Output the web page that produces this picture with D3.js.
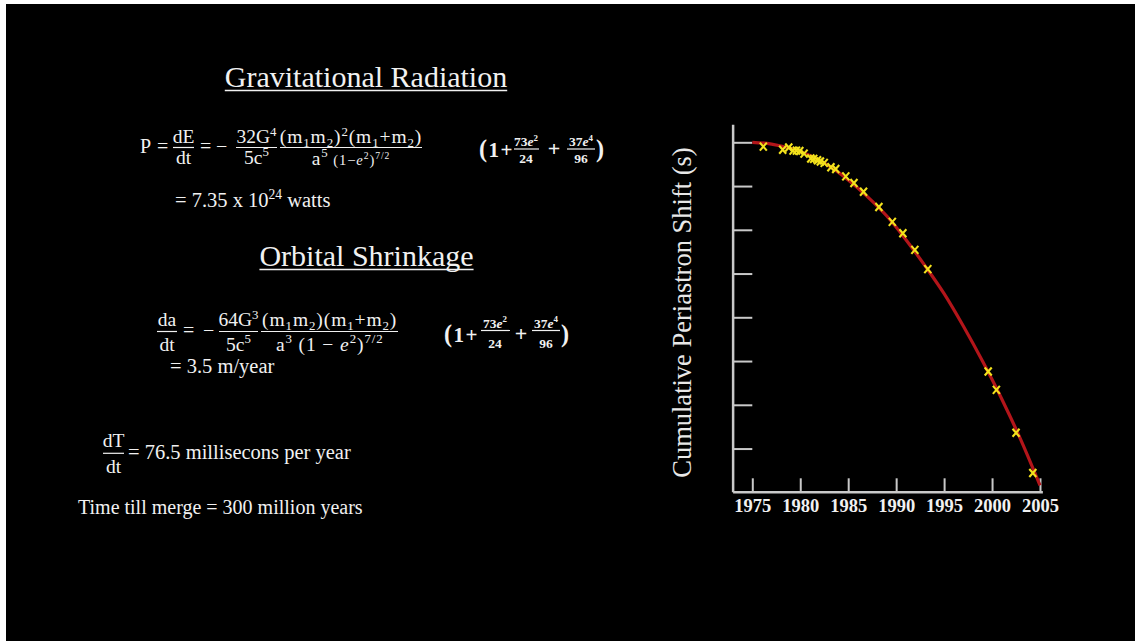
<!DOCTYPE html>
<html>
<head>
<meta charset="utf-8">
<script src="https://cdn.jsdelivr.net/npm/d3@7"></script>
<style>
  body { margin: 0; background: #fff; }
</style>
</head>
<body>
<script>
// fitted curve
var curveYears = [1975, 1977, 1979, 1981, 1983, 1985, 1987, 1989, 1991, 1993, 1995, 1997, 1999, 2001, 2003, 2005];
var curveShift = [0, -0.2, -0.7, -1.5, -2.7, -4.3, -6.2, -8.4, -11.1, -14.1, -17.3, -21.0, -25.0, -29.3, -34.0, -39.2];

// measured points (yellow x)
var obsYears = [1976.15, 1978.17, 1978.8, 1979.25, 1979.6, 1979.95, 1980.4, 1981.1, 1981.4, 1981.8, 1982.1, 1982.5,
                1983.2, 1983.7, 1984.75, 1985.6, 1986.6, 1988.2, 1989.6, 1990.7, 1991.95, 1993.3,
                1999.6, 2000.45, 2002.5, 2004.25];
var obsShift = [-0.5, -0.85, -0.6, -0.95, -0.95, -1.0, -1.3, -1.85, -1.9, -2.05, -2.2, -2.35,
                -2.85, -3.05, -3.9, -4.65, -5.65, -7.4, -9.1, -10.4, -12.3, -14.5,
                -26.2, -28.3, -33.2, -37.8];

var xTicks = [1975, 1980, 1985, 1990, 1995, 2000, 2005];
var yTicks = [0, -5, -10, -15, -20, -25, -30, -35];
var yLabel = "Cumulative Periastron Shift (s)";

var serif = "'Liberation Serif', 'DejaVu Serif', serif";
var ink = "#f1f1f1";

var svg = d3.select("body").append("svg")
    .attr("width", 1135)
    .attr("height", 641);

svg.append("rect").attr("width", 1135).attr("height", 641).attr("fill", "#fff");
svg.append("rect").attr("x", 6).attr("y", 4).attr("width", 1129).attr("height", 637).attr("fill", "#000");

// ---- text helpers ----
// flags: ^ sup, _ sub, i italic, b bold, s small, L large
function mathText(g, x, y, parts, size, opt) {
    opt = opt || {};
    var t = g.append("text")
        .attr("x", x).attr("y", y)
        .attr("font-family", serif)
        .attr("font-size", size)
        .attr("fill", ink)
        .attr("text-anchor", opt.anchor || "start");
    if (opt.bold) t.attr("font-weight", "bold");
    if (opt.ls) t.attr("letter-spacing", opt.ls);
    var off = 0;
    parts.forEach(function(p) {
        var f = p[1] || "";
        var base = f.indexOf("s") >= 0 ? size * 0.75 : (f.indexOf("L") >= 0 ? size * 1.15 : size);
        var target = f.indexOf("^") >= 0 ? -base * 0.38 : (f.indexOf("_") >= 0 ? base * 0.2 : 0);
        var fs = (f.indexOf("^") >= 0 || f.indexOf("_") >= 0) ? base * 0.66 : base;
        var ts = t.append("tspan").text(p[0]).attr("dy", target - off).attr("font-size", fs);
        off = target;
        if (f.indexOf("i") >= 0) ts.attr("font-style", "italic");
        if (f.indexOf("b") >= 0) ts.attr("font-weight", "bold");
    });
    return t;
}

function frac(g, cx, barY, x1, x2, num, den, size, up, down, opt) {
    opt = opt || {};
    mathText(g, cx, barY - up, num, size, {anchor: "middle", bold: opt.bold, ls: opt.ls});
    mathText(g, cx, barY + down, den, size, {anchor: "middle", bold: opt.bold, ls: opt.ls});
    g.append("line")
        .attr("x1", x1).attr("x2", x2)
        .attr("y1", barY).attr("y2", barY)
        .attr("stroke", ink).attr("stroke-width", 1.2);
}

function title(g, cx, y, s) {
    var t = g.append("text")
        .attr("x", cx).attr("y", y)
        .attr("text-anchor", "middle")
        .attr("font-family", serif)
        .attr("font-size", 30)
        .attr("fill", ink)
        .text(s);
    var b = t.node().getBBox();
    g.append("line")
        .attr("x1", b.x).attr("x2", b.x + b.width)
        .attr("y1", y + 3.5).attr("y2", y + 3.5)
        .attr("stroke", ink).attr("stroke-width", 1.5);
}

var txt = svg.append("g");
var M = 19.5;   // math size
var T = 20.5;   // plain line size

// ---- Gravitational Radiation ----
title(txt, 366, 87, "Gravitational Radiation");

mathText(txt, 140, 153, [["P"]], 20);
mathText(txt, 157, 153, [["="]], 20);
frac(txt, 183.5, 147.5, 173, 194, [["dE"]], [["dt"]], M, 4.5, 16);
mathText(txt, 200, 153, [["="]], 20);
mathText(txt, 216, 153, [["\u2212"]], 20);
frac(txt, 256.5, 147.5, 236, 277, [["32G"], ["4", "^"]], [["5c"], ["5", "^"]], M, 4.5, 16);
frac(txt, 351, 147.5, 280, 422,
    [["(m"], ["1", "_"], ["m"], ["2", "_"], [")"], ["2", "^"], ["(m"], ["1", "_"], ["+m"], ["2", "_"], [")"]],
    [["a"], ["5", "^"], [" (1\u2212", "s"], ["e", "si"], ["2", "s^"], [")", "s"], ["7/2", "s^"]],
    M, 4.5, 17, {ls: 0.9});

mathText(txt, 479, 156.5, [["(", "L"], ["1+"]], 21, {bold: true, ls: 1.5});
frac(txt, 526, 149, 514, 539, [["73"], ["e", "i"], ["2", "^"]], [["24"]], 13.5, 3, 13.5, {bold: true});
mathText(txt, 554, 156, [["+"]], 22, {bold: true, anchor: "middle"});
frac(txt, 581, 149, 567, 595, [["37"], ["e", "i"], ["4", "^"]], [["96"]], 13.5, 3, 13.5, {bold: true});
mathText(txt, 596, 156.5, [[")", "L"]], 21, {bold: true});

mathText(txt, 175, 207, [["= 7.35 x 10"], ["24", "^"], [" watts"]], T);

// ---- Orbital Shrinkage ----
title(txt, 366.5, 266, "Orbital Shrinkage");

frac(txt, 167, 331.5, 157, 177, [["da"]], [["dt"]], M, 5.5, 19);
mathText(txt, 183, 337, [["="]], 20);
mathText(txt, 203, 337, [["\u2212"]], 20);
frac(txt, 238.5, 331.5, 219, 258, [["64G"], ["3", "^"]], [["5c"], ["5", "^"]], M, 5.5, 19);
frac(txt, 329.7, 331.5, 261, 398,
    [["(m"], ["1", "_"], ["m"], ["2", "_"], [")(m"], ["1", "_"], ["+m"], ["2", "_"], [")"]],
    [["a"], ["3", "^"], [" (1 \u2212 "], ["e", "i"], ["2", "^"], [")"], ["7/2", "^"]],
    M, 5.5, 19, {ls: 0.9});

mathText(txt, 444, 341.5, [["(", "L"], ["1+"]], 21, {bold: true, ls: 1.5});
frac(txt, 495, 330.5, 481, 510, [["73"], ["e", "i"], ["2", "^"]], [["24"]], 13.5, 3, 17, {bold: true});
mathText(txt, 521, 341, [["+"]], 22, {bold: true, anchor: "middle"});
frac(txt, 546, 330.5, 532, 560, [["37"], ["e", "i"], ["4", "^"]], [["96"]], 13.5, 3, 17, {bold: true});
mathText(txt, 561, 341.5, [[")", "L"]], 21, {bold: true});

mathText(txt, 170, 373, [["= 3.5 m/year"]], T);

// ---- period decay ----
frac(txt, 113.5, 453.3, 103, 124, [["dT"]], [["dt"]], M, 6, 20);
mathText(txt, 128, 459, [["= 76.5 millisecons per year"]], T);
mathText(txt, 78, 514, [["Time till merge = 300 million years"]], 20);

// ---- chart ----
var x = d3.scaleLinear().domain([1975, 2005]).range([752.3, 1040]);
var y = d3.scaleLinear().domain([0, -40]).range([142.3, 492.3]);
var axisCol = "#c9c9c9";

var chart = svg.append("g");

var xAxis = chart.append("g")
    .attr("transform", "translate(0," + y(-40) + ")")
    .call(d3.axisBottom(x).tickValues(xTicks).tickFormat(d3.format("d"))
        .tickSizeInner(-14).tickSizeOuter(0).tickPadding(7));
xAxis.select(".domain").remove();
xAxis.selectAll("line").attr("stroke", axisCol).attr("stroke-width", 2);
xAxis.selectAll("text")
    .attr("fill", ink)
    .attr("font-family", serif)
    .attr("font-weight", "bold")
    .attr("font-size", 18.5);

var yAxis = chart.append("g")
    .attr("transform", "translate(" + x(1973) + ",0)")
    .call(d3.axisLeft(y).tickValues(yTicks).tickFormat("")
        .tickSizeInner(-(x(1975) - x(1973))).tickSizeOuter(0));
yAxis.select(".domain").remove();
yAxis.selectAll("line").attr("stroke", axisCol).attr("stroke-width", 2);

// axis lines
chart.append("line")
    .attr("x1", x(1973)).attr("x2", x(1973))
    .attr("y1", y(2)).attr("y2", y(-40))
    .attr("stroke", axisCol).attr("stroke-width", 2.5);
chart.append("line")
    .attr("x1", x(1973)).attr("x2", x(2005.3))
    .attr("y1", y(-40)).attr("y2", y(-40))
    .attr("stroke", axisCol).attr("stroke-width", 2.5);

chart.append("text")
    .attr("transform", "translate(691," + ((y(2) + y(-40)) / 2 + 4) + ") rotate(-90)")
    .attr("text-anchor", "middle")
    .attr("font-family", serif)
    .attr("font-size", 26.5)
    .attr("fill", "#e8e8e8")
    .text(yLabel);

var line = d3.line()
    .x(function(d, i) { return x(curveYears[i]); })
    .y(function(d) { return y(d); })
    .curve(d3.curveMonotoneX);

chart.append("path")
    .attr("d", line(curveShift))
    .attr("fill", "none")
    .attr("stroke", "#b3151a")
    .attr("stroke-width", 3.2);

chart.selectAll(".obs")
    .data(obsShift)
    .enter().append("path")
    .attr("class", "obs")
    .attr("transform", function(d, i) { return "translate(" + x(obsYears[i]) + "," + y(d) + ")"; })
    .attr("d", "M-3.5,-4L3.5,4M3.5,-4L-3.5,4")
    .attr("stroke", "#f3e21c")
    .attr("stroke-width", 2.1)
    .attr("fill", "none");
</script>
</body>
</html>
